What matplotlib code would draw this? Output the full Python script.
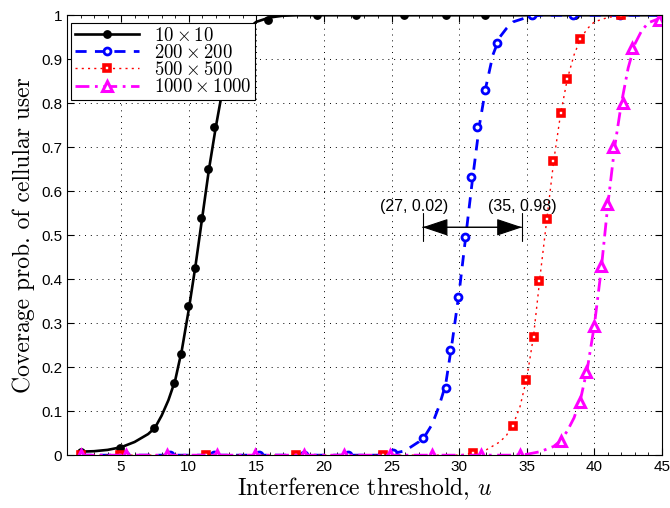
import matplotlib
matplotlib.use('Agg')
import matplotlib.pyplot as plt
from matplotlib.ticker import MultipleLocator

plt.rcParams['mathtext.fontset'] = 'cm'
plt.rcParams['font.family'] = ['Liberation Sans', 'DejaVu Sans']

# 10 x 10 (black, solid)
x_10 = [2, 3, 4, 5, 6, 7, 7.5, 8, 8.5, 9, 9.5, 10, 10.5, 11, 11.5, 12, 12.5, 13,
        13.5, 14, 15, 16, 17, 18, 45]
y_10 = [0.008, 0.009, 0.012, 0.018, 0.03, 0.048, 0.062, 0.09, 0.125, 0.17, 0.24,
        0.33, 0.43, 0.54, 0.65, 0.745, 0.83, 0.89, 0.935, 0.96, 0.985, 0.995,
        0.999, 1.0, 1.0]
mx_10 = [2, 4.9, 7.4, 8.9, 9.4, 9.95, 10.5, 10.9, 11.4, 11.9, 15.9, 19.5, 22.4,
         25.9, 29.0, 31.9, 35.4, 38.6, 41.9, 44.9]
my_10 = [0.008, 0.017, 0.061, 0.165, 0.23, 0.34, 0.425, 0.54, 0.65, 0.745, 0.99,
         1.0, 1.0, 1.0, 1.0, 1.0, 1.0, 1.0, 1.0, 1.0]

# 200 x 200 (blue, dashed)
x_200 = [2, 24, 25, 26, 27, 27.5, 28, 28.5, 29, 29.5, 30, 30.5, 31, 31.5, 32,
         32.5, 33, 33.5, 34, 35, 36, 45]
y_200 = [0, 0, 0.003, 0.01, 0.03, 0.045, 0.07, 0.11, 0.16, 0.26, 0.37, 0.5,
         0.63, 0.75, 0.84, 0.91, 0.95, 0.97, 0.985, 0.995, 1.0, 1.0]
mx_200 = [2, 5.3, 8.6, 11.9, 15.2, 18.5, 21.8, 25.1, 27.3, 29.0, 29.3, 29.9,
          30.4, 30.9, 31.3, 31.9, 32.8, 35.4, 38.4, 41.9, 44.9]
my_200 = [0, 0, 0, 0, 0, 0, 0, 0.005, 0.039, 0.152, 0.24, 0.36, 0.497, 0.632,
          0.745, 0.83, 0.936, 1.0, 1.0, 1.0, 1.0]

# 500 x 500 (red, dotted)
x_500 = [2, 30, 31, 32, 33, 33.5, 34, 34.5, 35, 35.5, 36, 36.5, 37, 37.5, 38,
         38.5, 39, 39.5, 40, 41, 42, 45]
y_500 = [0, 0, 0.005, 0.012, 0.03, 0.045, 0.07, 0.11, 0.175, 0.27, 0.41, 0.54,
         0.67, 0.775, 0.855, 0.91, 0.948, 0.97, 0.985, 0.995, 1.0, 1.0]
mx_500 = [2, 4.9, 11.3, 17.9, 24.4, 31.0, 34.0, 34.95, 35.5, 35.9, 36.5, 36.95,
          37.5, 38.0, 38.95, 42.0, 45.0]
my_500 = [0, 0, 0, 0, 0, 0.005, 0.066, 0.17, 0.268, 0.395, 0.536, 0.668, 0.777,
          0.855, 0.947, 1.0, 1.0]

# 1000 x 1000 (magenta, dash-dot)
x_1000 = [2, 34, 35, 36, 37, 37.5, 38, 38.5, 39, 39.5, 40, 40.5, 41, 41.5, 42,
          42.5, 43, 43.5, 44, 45]
y_1000 = [0, 0, 0.002, 0.008, 0.02, 0.033, 0.055, 0.085, 0.13, 0.2, 0.295, 0.42,
          0.57, 0.70, 0.80, 0.88, 0.935, 0.965, 0.983, 0.995]
mx_1000 = [2.0, 5.4, 8.4, 12.1, 14.9, 18.5, 21.5, 24.9, 28.0, 31.6, 34.5, 37.5,
           38.95, 39.4, 40.0, 40.5, 40.9, 41.4, 42.1, 42.8, 44.8]
my_1000 = [0, 0, 0, 0, 0, 0, 0, 0, 0, 0, 0, 0.032, 0.12, 0.19, 0.293, 0.43,
           0.57, 0.70, 0.80, 0.925, 0.99]

labels = [r'$10\times10$', r'$200\times200$', r'$500\times500$',
          r'$1000\times1000$']
yticks = [0, 0.1, 0.2, 0.3, 0.4, 0.5, 0.6, 0.7, 0.8, 0.9, 1]
ytick_labels = ['0', '0.1', '0.2', '0.3', '0.4', '0.5', '0.6', '0.7', '0.8',
                '0.9', '1']

fig = plt.figure(figsize=(6.7, 5.08), dpi=100)
ax = fig.add_axes([0.1, 0.104, 0.888, 0.866])

l1, = ax.plot(x_10, y_10, color='k', lw=1.9)
m1, = ax.plot(mx_10, my_10, 'o', color='k', ms=5.3, ls='none')

l2, = ax.plot(x_200, y_200, color='#0000ff', lw=2.0, dashes=(4, 3))
m2, = ax.plot(mx_200, my_200, 'o', mec='#0000ff', mfc='w', mew=2.0, ms=5.0,
              ls='none')

l3, = ax.plot(x_500, y_500, color='#ff0000', lw=1.0, dashes=(1.5, 3))
m3, = ax.plot(mx_500, my_500, 's', mec='#ff0000', mfc='w', mew=2.6, ms=4.6,
              ls='none')

l4, = ax.plot(x_1000, y_1000, color='#ff00ff', lw=2.0, dashes=(5, 2, 1, 2))
m4, = ax.plot(mx_1000, my_1000, '^', mec='#ff00ff', mfc='w', mew=2.2, ms=6.8,
              ls='none')

ax.set_xlim(1, 45)
ax.set_ylim(0, 1)
ax.set_xticks([5, 10, 15, 20, 25, 30, 35, 40, 45])
ax.xaxis.set_minor_locator(MultipleLocator(1))
ax.set_yticks(yticks)
ax.set_yticklabels(ytick_labels)
ax.tick_params(which='both', direction='in', top=True, right=True,
               labelsize=11)
ax.tick_params(which='major', length=5)
ax.tick_params(which='minor', length=2.5)
ax.grid(True, color='k', lw=0.7, linestyle=(0, (1, 5)))
for s in ax.spines.values():
    s.set_linewidth(0.8)

ax.set_xlabel('Interference threshold, $u$', family='cmr10', fontsize=17,
              labelpad=1)
ax.set_ylabel('Coverage prob. of cellular user', family='cmr10', fontsize=17,
              labelpad=4)

# double arrow between the two curves
ax.annotate('', xy=(27.3, 0.518), xytext=(34.65, 0.518),
            arrowprops=dict(arrowstyle='|-|,widthA=0.5,widthB=0.5', color='k',
                            lw=0.8, shrinkA=0, shrinkB=0, mutation_scale=20))
ax.annotate('', xy=(27.3, 0.518), xytext=(34.65, 0.518),
            arrowprops=dict(arrowstyle='<|-|>,head_length=0.9,head_width=0.3',
                            color='k', lw=0.8, shrinkA=0, shrinkB=0,
                            mutation_scale=18))
ax.text(26.7, 0.565, '(27, 0.02)', ha='center', va='center', fontsize=11.5,
        family='Liberation Sans')
ax.text(34.7, 0.565, '(35, 0.98)', ha='center', va='center', fontsize=11.5,
        family='Liberation Sans')

leg = ax.legend([(l1, m1), (l2, m2), (l3, m3), (l4, m4)], labels,
                loc='upper left', bbox_to_anchor=(0.007, 0.982),
                borderaxespad=0, fontsize=13.5, labelspacing=-0.05,
                handlelength=3.4, handletextpad=0.8, borderpad=0.2,
                fancybox=False, framealpha=1, edgecolor='k')
leg.get_frame().set_linewidth(0.8)

fig.savefig('out.png', dpi=100)
